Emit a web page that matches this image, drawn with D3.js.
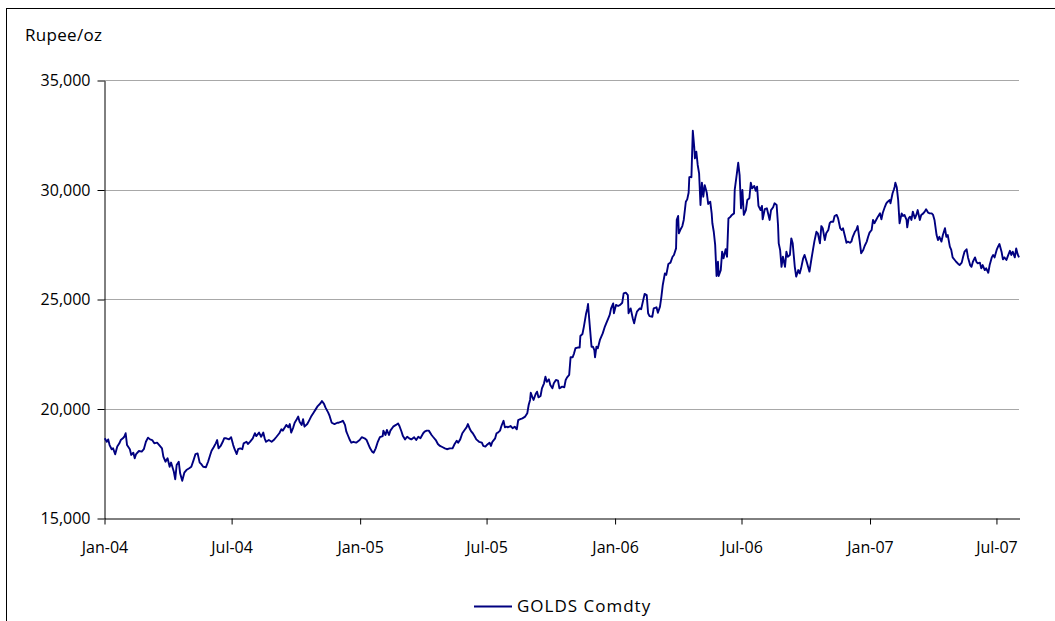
<!DOCTYPE html>
<html>
<head>
<meta charset="utf-8">
<script src="https://cdn.jsdelivr.net/npm/d3@7"></script>
<style>
  body { margin: 0; background: #fff; }
  svg { display: block; font-family: "Open Sans", sans-serif; }
</style>
</head>
<body>
<div id="chart"></div>
<script>
// --- Data (one line per month) ---
const dates = [
  "2004-01-02","2004-01-05","2004-01-07","2004-01-09","2004-01-12","2004-01-14","2004-01-17","2004-01-20","2004-01-23","2004-01-25","2004-01-28","2004-01-30",
  "2004-02-01","2004-02-03","2004-02-07","2004-02-09","2004-02-12","2004-02-14","2004-02-16","2004-02-20","2004-02-24","2004-02-27",
  "2004-03-01","2004-03-04","2004-03-07","2004-03-10","2004-03-13","2004-03-17","2004-03-21","2004-03-24","2004-03-26","2004-03-29",
  "2004-04-01","2004-04-04","2004-04-06","2004-04-10","2004-04-12","2004-04-14","2004-04-17","2004-04-19","2004-04-22","2004-04-25","2004-04-28",
  "2004-05-02","2004-05-05","2004-05-08","2004-05-11","2004-05-14","2004-05-17","2004-05-19","2004-05-22","2004-05-26","2004-05-29",
  "2004-06-01","2004-06-03","2004-06-06","2004-06-09","2004-06-11","2004-06-13","2004-06-16","2004-06-19","2004-06-21","2004-06-24","2004-06-28",
  "2004-07-01","2004-07-04","2004-07-06","2004-07-09","2004-07-11","2004-07-14","2004-07-17","2004-07-19","2004-07-23","2004-07-25","2004-07-28",
  "2004-08-01","2004-08-04","2004-08-06","2004-08-10","2004-08-13","2004-08-16","2004-08-18","2004-08-20","2004-08-24","2004-08-28","2004-08-31",
  "2004-09-04","2004-09-08","2004-09-11","2004-09-13","2004-09-16","2004-09-18","2004-09-21","2004-09-23","2004-09-25","2004-09-28","2004-09-30",
  "2004-10-03","2004-10-05","2004-10-07","2004-10-10","2004-10-12","2004-10-14","2004-10-18","2004-10-21","2004-10-24","2004-10-27","2004-10-30",
  "2004-11-02","2004-11-06","2004-11-08","2004-11-11","2004-11-13","2004-11-17","2004-11-19","2004-11-22","2004-11-26","2004-11-30",
  "2004-12-02","2004-12-06","2004-12-08","2004-12-11","2004-12-13","2004-12-15","2004-12-18","2004-12-20","2004-12-23","2004-12-27",
  "2005-01-01","2005-01-04","2005-01-08","2005-01-11","2005-01-14","2005-01-16","2005-01-19","2005-01-21","2005-01-24","2005-01-27","2005-01-30",
  "2005-02-03","2005-02-04","2005-02-07","2005-02-09","2005-02-12","2005-02-14","2005-02-18","2005-02-22","2005-02-25","2005-02-27",
  "2005-03-02","2005-03-04","2005-03-07","2005-03-10","2005-03-13","2005-03-16","2005-03-20","2005-03-23","2005-03-26","2005-03-29",
  "2005-04-02","2005-04-04","2005-04-07","2005-04-10","2005-04-14","2005-04-16","2005-04-20","2005-04-23","2005-04-26","2005-04-30",
  "2005-05-03","2005-05-06","2005-05-10","2005-05-14","2005-05-17","2005-05-20","2005-05-22","2005-05-25","2005-05-28",
  "2005-06-01","2005-06-03","2005-06-05","2005-06-08","2005-06-10","2005-06-12","2005-06-15","2005-06-17","2005-06-21","2005-06-25","2005-06-27","2005-06-30",
  "2005-07-02","2005-07-06","2005-07-08","2005-07-10","2005-07-14","2005-07-16","2005-07-18","2005-07-21","2005-07-23","2005-07-26","2005-07-28","2005-07-31",
  "2005-08-01","2005-08-05","2005-08-08","2005-08-11","2005-08-14","2005-08-16","2005-08-19","2005-08-22","2005-08-26","2005-08-29","2005-08-31",
  "2005-09-02","2005-09-03","2005-09-05","2005-09-07","2005-09-10","2005-09-12","2005-09-14","2005-09-17","2005-09-19","2005-09-22","2005-09-24","2005-09-26","2005-09-29",
  "2005-10-01","2005-10-04","2005-10-06","2005-10-09","2005-10-12","2005-10-14","2005-10-18","2005-10-21","2005-10-23","2005-10-25","2005-10-28","2005-10-30",
  "2005-11-02","2005-11-04","2005-11-06","2005-11-10","2005-11-12","2005-11-13","2005-11-16","2005-11-18","2005-11-21","2005-11-23","2005-11-24","2005-11-25","2005-11-27","2005-11-29",
  "2005-12-01","2005-12-03","2005-12-04","2005-12-06","2005-12-08","2005-12-11","2005-12-13","2005-12-15","2005-12-18","2005-12-20","2005-12-23","2005-12-25","2005-12-27","2005-12-30","2005-12-31",
  "2006-01-03","2006-01-06","2006-01-09","2006-01-12","2006-01-14","2006-01-17","2006-01-20","2006-01-21","2006-01-24","2006-01-27","2006-01-29","2006-01-31",
  "2006-02-02","2006-02-06","2006-02-08","2006-02-11","2006-02-13","2006-02-16","2006-02-18","2006-02-20","2006-02-24","2006-02-26",
  "2006-03-02","2006-03-04","2006-03-07","2006-03-09","2006-03-11","2006-03-14","2006-03-16","2006-03-19","2006-03-22","2006-03-25","2006-03-27","2006-03-30","2006-03-31",
  "2006-04-02","2006-04-03","2006-04-05","2006-04-08","2006-04-10","2006-04-13","2006-04-15","2006-04-17","2006-04-18","2006-04-20","2006-04-21","2006-04-22","2006-04-23","2006-04-25","2006-04-26","2006-04-28","2006-04-30",
  "2006-05-02","2006-05-04","2006-05-06","2006-05-08","2006-05-10","2006-05-13","2006-05-15","2006-05-18","2006-05-20","2006-05-21","2006-05-23","2006-05-25","2006-05-27","2006-05-29","2006-05-30",
  "2006-06-02","2006-06-04","2006-06-06","2006-06-09","2006-06-11","2006-06-13","2006-06-16","2006-06-18","2006-06-21","2006-06-22","2006-06-25","2006-06-27","2006-06-29",
  "2006-07-01","2006-07-03","2006-07-05","2006-07-08","2006-07-10","2006-07-13","2006-07-15","2006-07-17","2006-07-20","2006-07-22","2006-07-24","2006-07-26","2006-07-29","2006-07-31",
  "2006-08-01","2006-08-04","2006-08-07","2006-08-11","2006-08-13","2006-08-16","2006-08-18","2006-08-21","2006-08-23","2006-08-24","2006-08-26","2006-08-28","2006-08-30",
  "2006-09-02","2006-09-04","2006-09-06","2006-09-09","2006-09-11","2006-09-13","2006-09-16","2006-09-18","2006-09-21","2006-09-23","2006-09-25","2006-09-28","2006-09-30",
  "2006-10-03","2006-10-05","2006-10-07","2006-10-10","2006-10-12","2006-10-14","2006-10-17","2006-10-19","2006-10-22","2006-10-24","2006-10-26","2006-10-29","2006-10-31",
  "2006-11-03","2006-11-05","2006-11-07","2006-11-10","2006-11-12","2006-11-15","2006-11-17","2006-11-20","2006-11-22","2006-11-24","2006-11-27","2006-11-29",
  "2006-12-01","2006-12-04","2006-12-06","2006-12-08","2006-12-11","2006-12-13","2006-12-15","2006-12-18","2006-12-20","2006-12-23","2006-12-25","2006-12-28","2006-12-30",
  "2007-01-01","2007-01-04","2007-01-06","2007-01-08","2007-01-11","2007-01-13","2007-01-16","2007-01-18","2007-01-20","2007-01-23","2007-01-25","2007-01-27","2007-01-30","2007-01-31",
  "2007-02-03","2007-02-05","2007-02-06","2007-02-07","2007-02-09","2007-02-11","2007-02-13","2007-02-16","2007-02-18","2007-02-20","2007-02-23","2007-02-24","2007-02-26","2007-02-28",
  "2007-03-02","2007-03-04","2007-03-07","2007-03-09","2007-03-11","2007-03-14","2007-03-16","2007-03-19","2007-03-21","2007-03-23","2007-03-26","2007-03-28","2007-03-31",
  "2007-04-02","2007-04-04","2007-04-07","2007-04-09","2007-04-11","2007-04-14","2007-04-16","2007-04-19","2007-04-21","2007-04-23","2007-04-26","2007-04-28","2007-04-30",
  "2007-05-03","2007-05-05","2007-05-08","2007-05-10","2007-05-13","2007-05-15","2007-05-17","2007-05-20","2007-05-22","2007-05-25","2007-05-27","2007-05-29",
  "2007-06-01","2007-06-03","2007-06-05","2007-06-08","2007-06-10","2007-06-12","2007-06-15","2007-06-17","2007-06-20","2007-06-22","2007-06-25","2007-06-27","2007-06-29",
  "2007-07-02","2007-07-04","2007-07-06","2007-07-09","2007-07-11","2007-07-13","2007-07-16","2007-07-18","2007-07-21","2007-07-23","2007-07-25","2007-07-28","2007-07-30",
  "2007-08-01","2007-08-03"
];

const prices = [
  18640,18480,18590,18330,18140,18180,17910,18260,18410,18560,18640,18710,
  18870,18330,18140,17880,17980,17730,17920,18060,18030,18140,
  18480,18670,18590,18560,18410,18440,18290,18180,17800,17570,
  17730,17340,17530,17110,16770,17420,17570,17040,16700,17070,17190,
  17270,17340,17620,17920,17950,17530,17470,17340,17320,17570,
  17880,18070,18230,18410,18560,18180,18290,18480,18640,18640,18590,
  18690,18330,18140,17920,18140,18180,18140,18410,18480,18380,18480,
  18640,18870,18740,18900,18710,18900,18640,18480,18560,18480,18560,
  18710,18870,19050,18990,19140,19250,19140,19290,18900,19140,19350,
  19510,19630,19400,19250,19510,19170,19290,19470,19660,19810,19960,
  20110,20240,20340,20210,20050,19810,19660,19350,19290,19350,
  19350,19400,19440,19250,18940,18790,18560,18440,18480,18440,
  18560,18690,18640,18560,18330,18180,18030,17980,18180,18480,18690,
  18740,18990,18790,19020,18790,18990,19170,19250,19320,19200,
  18940,18740,18590,18710,18640,18590,18690,18560,18710,18640,
  18870,18940,18990,18990,18790,18710,18560,18380,18290,18230,
  18180,18140,18180,18180,18380,18530,18440,18590,18870,
  19050,19140,19290,19050,18940,18870,18710,18590,18480,18440,18290,18260,
  18330,18440,18290,18480,18640,18870,18900,18990,19200,19440,19140,19170,
  19140,19200,19100,19170,19050,19470,19510,19550,19630,19780,20160,
  20390,20720,20540,20390,20660,20770,20510,20570,20920,21150,21450,21220,21330,
  21070,20920,21150,21300,21270,20920,21000,20970,21300,21420,21530,22340,
  22340,22520,22750,22790,22780,23310,23400,23730,24300,24570,24770,24350,23580,22820,
  22820,22670,22340,22820,22750,23130,23280,23430,23730,23890,24120,24270,24570,24800,24350,
  24730,24680,24730,24830,25260,25290,25180,24350,24570,24120,23890,24190,
  24420,24570,24530,24950,25230,25180,24350,24220,24190,24570,
  24620,24370,24650,25100,25640,26170,26100,26600,26660,26930,27010,27310,28610,
  28790,28000,28150,28330,28610,29440,29550,29850,30560,30580,30560,31650,32680,31950,31420,31730,31120,
  30740,29290,30310,29670,30200,29850,29340,29440,28910,28460,28070,27470,26050,26700,26050,
  26320,27160,26860,27270,26930,28680,28760,28840,28910,29980,30710,31220,30660,
  29140,29980,28840,29060,29520,29600,30310,30050,30160,29940,30130,29250,29060,29250,
  28640,29100,29140,28610,29060,29190,29370,29290,28380,27540,27240,26470,26930,
  26470,27160,26930,27010,27770,27540,26470,26020,26320,26170,26400,26860,27010,
  26700,26470,26250,26860,27240,27620,28070,28000,27540,28330,28230,27690,28000,
  28150,28460,28530,28530,28790,28840,28680,28230,28150,28230,27840,27570,
  27620,27570,27620,27840,28070,28150,28330,27620,27090,27240,27420,27620,27840,
  28030,28150,28610,28460,28640,28760,28910,28640,28940,29210,29370,29440,29520,29370,
  29830,30010,30130,30310,30100,29520,28460,28910,28790,28840,28610,28270,28680,28760,
  28610,28990,28680,28840,29060,28610,28840,28910,28990,29100,28940,28910,28910,
  28840,28610,27920,27690,27840,27620,27920,28230,27840,27920,27390,27240,26900,
  26780,26700,26600,26550,26660,26930,27160,27270,26900,26550,26470,26700,
  26900,26700,26630,26660,26400,26550,26320,26400,26200,26550,26900,27010,26900,
  27240,27390,27510,27160,26810,26900,26780,26960,27200,27010,27160,26900,27310,
  27050,26900
];

const yTicks = [15000, 20000, 25000, 30000, 35000];
const gridValues = [20000, 25000, 30000, 35000];
const xTickDates = ["2004-01-01","2004-07-01","2005-01-01","2005-07-01","2006-01-01","2006-07-01","2007-01-01","2007-07-01"];
const xTickLabels = ["Jan-04","Jul-04","Jan-05","Jul-05","Jan-06","Jul-06","Jan-07","Jul-07"];
const xDomain = ["2004-01-01", "2007-08-03"];
const seriesName = "GOLDS Comdty";
const unitLabel = "Rupee/oz";

// --- Setup ---
const width = 1055, height = 621;
const plot = { left: 104, right: 1019, top: 80, bottom: 518 };
const parse = d3.utcParse("%Y-%m-%d");
const navy = "#000080";

if (dates.length !== prices.length) console.warn("length mismatch", dates.length, prices.length);
const data = dates.map((d, i) => ({ date: parse(d), value: prices[i] }));

const svg = d3.select("#chart").append("svg")
    .attr("width", width)
    .attr("height", height);

svg.append("rect")
    .attr("width", width).attr("height", height)
    .attr("fill", "#fff");

// outer frame (runs off the right and bottom edges)
svg.append("rect")
    .attr("x", 6.5).attr("y", 8.5)
    .attr("width", 1200).attr("height", 800)
    .attr("fill", "none")
    .attr("stroke", "#000")
    .attr("stroke-width", 1);

const x = d3.scaleUtc()
    .domain(xDomain.map(parse))
    .range([plot.left, plot.right]);

const y = d3.scaleLinear()
    .domain([15000, 35000])
    .range([plot.bottom, plot.top]);

// gridlines
svg.append("g")
    .selectAll("line")
    .data(gridValues)
    .join("line")
    .attr("x1", plot.left)
    .attr("x2", plot.right)
    .attr("y1", d => Math.round(y(d)) + 0.5)
    .attr("y2", d => Math.round(y(d)) + 0.5)
    .attr("stroke", "#a8a8a8")
    .attr("stroke-width", 1);

// y axis
const yAxis = svg.append("g")
    .attr("transform", `translate(${plot.left + 0.5},0.5)`)
    .call(d3.axisLeft(y)
        .tickValues(yTicks)
        .tickFormat(d3.format(","))
        .tickSize(7)
        .tickSizeOuter(0)
        .tickPadding(7));

// x axis
const xAxis = svg.append("g")
    .attr("transform", `translate(0.5,${plot.bottom + 0.5})`)
    .call(d3.axisBottom(x)
        .tickValues(xTickDates.map(parse))
        .tickFormat((d, i) => xTickLabels[i])
        .tickSize(6)
        .tickSizeOuter(0)
        .tickPadding(17));

[yAxis, xAxis].forEach(g => {
    g.selectAll("path.domain").attr("stroke", "#000");
    g.selectAll(".tick line").attr("stroke", "#000");
    g.selectAll("text")
        .attr("fill", "#000")
        .style("font-size", "16px")
        .style("font-family", "'Open Sans', sans-serif");
});

// the series
const line = d3.line()
    .x(d => x(d.date))
    .y(d => y(d.value));

svg.append("path")
    .datum(data)
    .attr("fill", "none")
    .attr("stroke", navy)
    .attr("stroke-width", 1.9)
    .attr("stroke-linejoin", "round")
    .attr("d", line);

// unit label
svg.append("text")
    .attr("x", 25)
    .attr("y", 41)
    .style("font-size", "17px")
    .style("letter-spacing", "0.3px")
    .text(unitLabel);

// legend
svg.append("line")
    .attr("x1", 474).attr("x2", 512)
    .attr("y1", 606.5).attr("y2", 606.5)
    .attr("stroke", navy)
    .attr("stroke-width", 2);

svg.append("text")
    .attr("x", 517)
    .attr("y", 612)
    .style("font-size", "17px")
    .style("letter-spacing", "1px")
    .text(seriesName);
</script>
</body>
</html>
